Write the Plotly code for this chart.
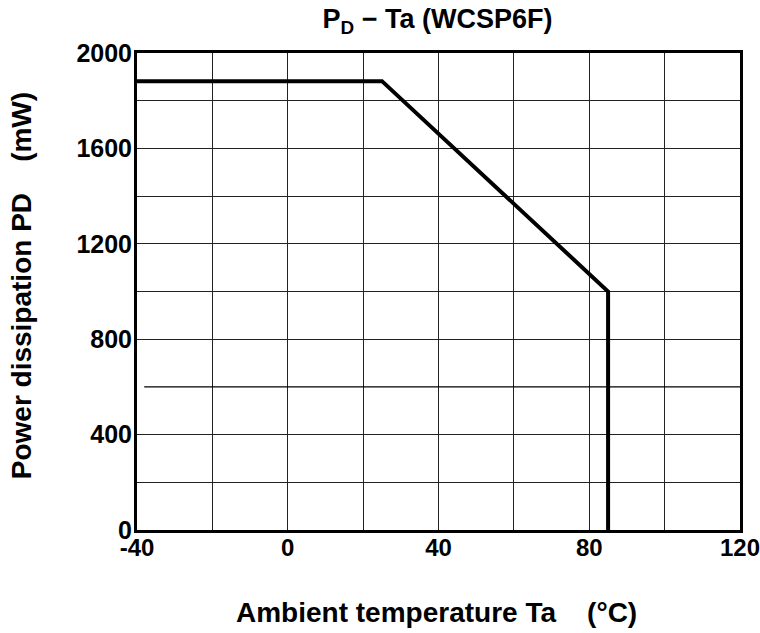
import plotly.graph_objects as go

# Data
ta = [-40, 25, 85, 85]
pd_mw = [1882, 1882, 1000, 0]
x_ticks = [-40, 0, 40, 80, 120]
x_grid_minor = [-20, 20, 60, 100]
y_ticks = [0, 400, 800, 1200, 1600, 2000]
y_grid_minor = [200, 1000, 1400, 1800]
extra_grid_y = 600

FONT = "Liberation Sans, Arial, sans-serif"

fig = go.Figure()
fig.add_trace(go.Scatter(x=ta, y=pd_mw, mode="lines",
                         line=dict(color="black", width=4),
                         showlegend=False, hoverinfo="skip"))

fig.add_shape(type="line", xref="paper", yref="y",
              x0=0.012, x1=1.005, y0=extra_grid_y, y1=extra_grid_y,
              line=dict(color="black", width=1.3), layer="above")

fig.add_annotation(text="<b>Ambient temperature Ta&nbsp;&nbsp;&nbsp;&nbsp;(°C)</b>",
                   xref="paper", yref="paper", x=0.496, y=-0.174,
                   xanchor="center", yanchor="middle", showarrow=False,
                   font=dict(size=28, family=FONT, color="black"))
fig.add_annotation(text="<b>Power dissipation PD&nbsp;&nbsp;&nbsp;&nbsp;(mW)</b>",
                   xref="paper", yref="paper", x=-0.192, y=0.5115,
                   xanchor="center", yanchor="middle", showarrow=False,
                   textangle=-90,
                   font=dict(size=28, family=FONT, color="black"))

fig.update_layout(
    width=760, height=633,
    margin=dict(l=137, r=20, t=53, b=103),
    paper_bgcolor="white", plot_bgcolor="white",
    font=dict(family=FONT, color="black"),
    title=dict(text="<b>P<sub>D</sub> − Ta (WCSP6F)</b>", x=0.5757, xanchor="center",
               y=0.970, yanchor="middle", font=dict(size=27, family=FONT)),
    xaxis=dict(range=[-40, 120], tickvals=x_ticks, ticktext=[f"<b>{v}</b>" for v in x_ticks],
               tickfont=dict(size=24), ticks="", ticklen=0, automargin=False,
               ticklabeloverflow="allow", ticklabelstandoff=-6,
               showgrid=True, gridcolor="#222", gridwidth=1,
               minor=dict(tickvals=x_grid_minor, showgrid=True, gridcolor="#222", gridwidth=1, ticks=""),
               showline=True, linecolor="black", linewidth=3, mirror=True,
               zeroline=False),
    yaxis=dict(range=[0, 2000], tickvals=y_ticks, ticktext=[f"<b>{v}</b>" for v in y_ticks],
               tickfont=dict(size=25), ticks="", ticklen=0, automargin=False,
               ticklabeloverflow="allow", ticklabelstandoff=-3,
               showgrid=True, gridcolor="#222", gridwidth=1,
               minor=dict(tickvals=y_grid_minor, showgrid=True, gridcolor="#222", gridwidth=1, ticks=""),
               showline=True, linecolor="black", linewidth=3, mirror=True,
               zeroline=False),
)

fig.write_html("out.html")
